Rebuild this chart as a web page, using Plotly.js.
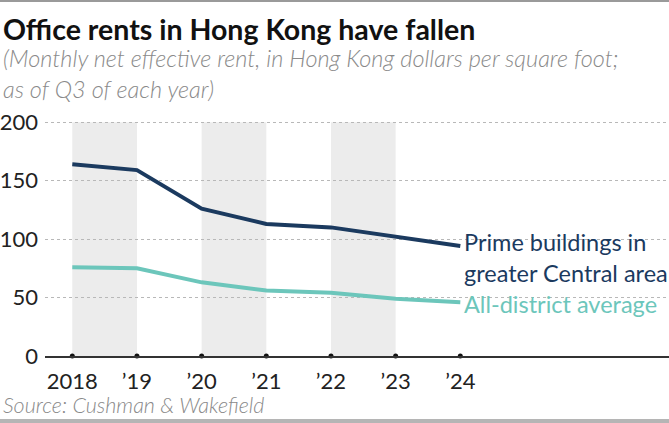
<!DOCTYPE html>
<html>
<head>
<meta charset="utf-8">
<script src="https://cdn.plot.ly/plotly-3.0.1.min.js"></script>
<style>
html,body{margin:0;padding:0;background:#fff;}
#chart{width:669px;height:423px;}
</style>
</head>
<body>
<div id="chart"></div>
<script>
// ---- data ----
const years = [2018, 2019, 2020, 2021, 2022, 2023, 2024];
const yearLabels = ["2018", "\u201919", "\u201920", "\u201921", "\u201922", "\u201923", "\u201924"];
const primeCentral = [164, 159, 126, 113, 110, 102, 94];
const allDistrict = [76, 75, 63, 56, 54, 49, 46];
const shadedBands = [[2018, 2019], [2020, 2021], [2022, 2023]];
const seriesNames = ["Prime buildings in<br>greater Central area", "All-district average"];
const yTicks = [0, 50, 100, 150, 200];

// ---- layout constants ----
const W = 669, H = 423, ML = 45, MR = 0, MT = 121, MB = 67;
const PH = H - MT - MB, PW = W - ML - MR;
const py = p => (H - MB - p) / PH;   // pixel y -> paper y
const px = p => (p - ML) / PW;       // pixel x -> paper x

const navy = "#1b3a5f";
const teal = "#6cc6bb";
const FONT = "Lato, 'Open Sans', sans-serif";

const traces = [
  {x: years, y: primeCentral, type: "scatter", mode: "lines",
   line: {color: navy, width: 4}, hoverinfo: "skip"},
  {x: years, y: allDistrict, type: "scatter", mode: "lines",
   line: {color: teal, width: 4}, hoverinfo: "skip"},
  {x: years, y: years.map(() => 0), type: "scatter", mode: "markers",
   marker: {color: "#111", size: 5}, cliponaxis: false, hoverinfo: "skip"}
];

const shapes = shadedBands.map(b => ({
  type: "rect", xref: "x", yref: "y", x0: b[0], x1: b[1], y0: 0, y1: 200,
  fillcolor: "#ececec", line: {width: 0}, layer: "below"
}));
shapes.push({type: "line", xref: "paper", yref: "paper", x0: px(0), x1: px(W),
  y0: py(1), y1: py(1), line: {color: "#9a9a9a", width: 2}});
shapes.push({type: "rect", xref: "paper", yref: "paper", x0: px(0), x1: px(W),
  y0: py(419), y1: py(424), fillcolor: "#b5b5b5", line: {width: 0}});

const annotations = [
  {text: "<b>Office rents in Hong Kong have fallen</b>", x: px(1), y: py(29),
   xanchor: "left", yanchor: "middle", font: {size: 28.5, color: "#111", family: FONT}},
  {text: "<i>(Monthly net effective rent, in Hong Kong dollars per square foot;<br>as of Q3 of each year)</i>",
   x: px(1), y: py(73.5), xanchor: "left", yanchor: "middle", align: "left",
   font: {size: 23.5, color: "#8a8a8a", family: FONT, weight: 300}},
  {text: seriesNames[0], x: 2024, y: primeCentral[6], xref: "x", yref: "y",
   xanchor: "left", yanchor: "top", xshift: 2, yshift: 20, align: "left",
   font: {size: 23.5, color: navy, family: FONT}},
  {text: seriesNames[1], x: 2024, y: allDistrict[6], xref: "x", yref: "y",
   xanchor: "left", yanchor: "middle", xshift: 2, yshift: -2, align: "left",
   font: {size: 23.5, color: teal, family: FONT}},
  {text: "<i>Source: Cushman & Wakefield</i>", x: px(1), y: py(405),
   xanchor: "left", yanchor: "middle", font: {size: 21.5, color: "#8a8a8a", family: FONT, weight: 300}}
];
annotations.forEach(a => { a.showarrow = false; if (!a.xref) { a.xref = "paper"; a.yref = "paper"; } });

const layout = {
  width: W, height: H,
  margin: {l: ML, r: MR, t: MT, b: MB, pad: 0},
  paper_bgcolor: "#fff", plot_bgcolor: "rgba(0,0,0,0)",
  showlegend: false,
  font: {family: FONT, color: "#222"},
  xaxis: {
    range: [2017.578, 2027.227], tickvals: years, ticktext: yearLabels,
    showgrid: false, zeroline: false, showline: true, linecolor: "#333", linewidth: 1.5,
    ticks: "", ticklabelstandoff: 5, tickfont: {size: 22, color: "#222", family: FONT},
    fixedrange: true
  },
  yaxis: {
    range: [0, 201], tickvals: yTicks,
    showgrid: true, gridcolor: "#b8b8b8", griddash: "dot", gridwidth: 1,
    zeroline: false, showline: false, ticks: "", ticklabelstandoff: 6,
    tickfont: {size: 22, color: "#222", family: FONT}, fixedrange: true
  },
  shapes: shapes,
  annotations: annotations
};

Plotly.newPlot("chart", traces, layout, {displayModeBar: false, staticPlot: true});
</script>
</body>
</html>
